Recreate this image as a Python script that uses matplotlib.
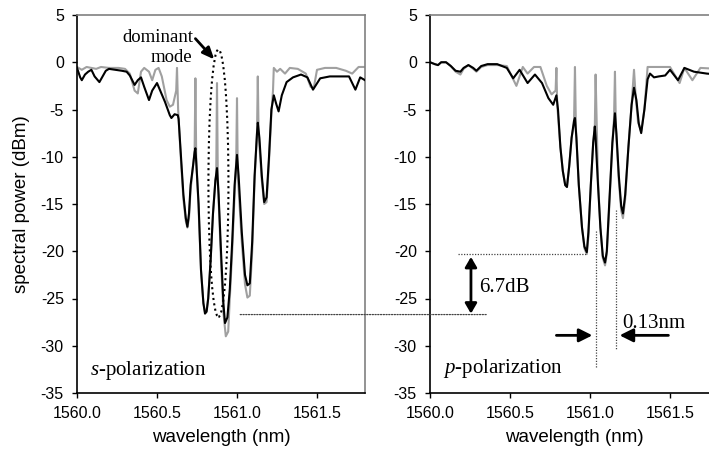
import matplotlib
matplotlib.use("Agg")
import matplotlib.pyplot as plt
from matplotlib.patches import Ellipse, ConnectionPatch, FancyArrowPatch

plt.rcParams["mathtext.fontset"] = "custom"
plt.rcParams["mathtext.it"] = "Liberation Serif:italic"
plt.rcParams["mathtext.rm"] = "Liberation Serif"

# ---------------- data ----------------
s_black_x = [1560.00, 1560.02, 1560.03, 1560.05, 1560.07, 1560.09, 1560.11, 1560.14, 1560.16, 1560.18,
             1560.20, 1560.24, 1560.28, 1560.31, 1560.33, 1560.36, 1560.38, 1560.40, 1560.42, 1560.45,
             1560.47, 1560.50, 1560.52, 1560.55, 1560.58, 1560.59, 1560.61, 1560.63, 1560.635, 1560.65,
             1560.665, 1560.68, 1560.69, 1560.70, 1560.71, 1560.725, 1560.735, 1560.74, 1560.745, 1560.76,
             1560.775, 1560.79, 1560.80, 1560.81, 1560.82, 1560.835, 1560.85, 1560.865, 1560.875, 1560.885,
             1560.90, 1560.915, 1560.925, 1560.94, 1560.955, 1560.97, 1560.985, 1561.00, 1561.01, 1561.03,
             1561.05, 1561.065, 1561.08, 1561.095, 1561.11, 1561.125, 1561.13, 1561.14, 1561.155, 1561.17,
             1561.185, 1561.20, 1561.215, 1561.23, 1561.245, 1561.26, 1561.28, 1561.31, 1561.35, 1561.40,
             1561.44, 1561.475, 1561.52, 1561.58, 1561.64, 1561.70, 1561.74, 1561.77, 1561.80]
s_black_y = [-0.6, -1.6, -1.9, -1.3, -1.0, -0.8, -1.5, -2.1, -1.5, -0.9,
             -0.7, -0.8, -0.9, -1.0, -1.4, -2.4, -1.9, -1.6, -2.6, -4.0,
             -3.0, -2.2, -3.0, -4.2, -5.6, -5.9, -5.5, -5.6, -6.0, -10.0,
             -14.0, -16.5, -17.4, -16.0, -13.0, -11.0, -9.5, -9.1, -10.5, -15.0,
             -22.0, -25.5, -26.6, -26.4, -25.0, -21.0, -16.0, -12.5, -11.2, -14.0,
             -20.0, -25.5, -27.6, -27.0, -24.0, -19.0, -13.0, -9.8, -12.0, -18.0,
             -22.5, -23.6, -23.4, -19.0, -12.0, -7.5, -6.4, -8.0, -12.0, -14.8,
             -14.3, -10.0, -5.0, -3.5, -4.4, -5.2, -3.5, -2.1, -1.6, -1.3,
             -1.6, -2.9, -1.7, -1.5, -1.5, -1.5, -2.9, -1.6, -1.9]

s_gray_x = [1560.00, 1560.03, 1560.06, 1560.09, 1560.12, 1560.15, 1560.20, 1560.26, 1560.30, 1560.33,
            1560.36, 1560.38, 1560.40, 1560.42, 1560.45, 1560.47, 1560.49, 1560.51, 1560.53, 1560.56,
            1560.58, 1560.60, 1560.62, 1560.625, 1560.632, 1560.65, 1560.665, 1560.68, 1560.69, 1560.70,
            1560.71, 1560.725, 1560.735, 1560.74, 1560.745, 1560.76, 1560.775, 1560.79, 1560.80, 1560.81,
            1560.82, 1560.835, 1560.85, 1560.865, 1560.87, 1560.875, 1560.88, 1560.885, 1560.90, 1560.915,
            1560.93, 1560.945, 1560.955, 1560.97, 1560.985, 1560.995, 1561.00, 1561.005, 1561.03, 1561.05,
            1561.065, 1561.08, 1561.095, 1561.11, 1561.125, 1561.13, 1561.135, 1561.155, 1561.17, 1561.185,
            1561.20, 1561.215, 1561.225, 1561.23, 1561.25, 1561.27, 1561.30, 1561.33, 1561.38, 1561.43,
            1561.46, 1561.48, 1561.50, 1561.55, 1561.62, 1561.68, 1561.72, 1561.76, 1561.80]
s_gray_y = [-0.5, -0.8, -0.5, -0.6, -0.7, -0.5, -0.6, -0.6, -0.7, -1.2,
            -3.0, -3.3, -1.0, -0.6, -1.0, -1.9, -0.8, -0.6, -1.5, -4.0,
            -4.7, -4.5, -3.0, -0.6, -5.0, -10.5, -14.5, -16.8, -17.5, -16.5,
            -13.5, -11.0, -9.5, -1.7, -10.0, -15.5, -22.0, -25.5, -26.4, -26.3,
            -25.0, -21.0, -16.0, -12.5, -12.0, -2.2, -12.0, -14.5, -21.0, -26.5,
            -29.0, -28.5, -25.0, -20.0, -14.0, -10.5, -3.8, -12.0, -19.0, -23.5,
            -24.9, -24.7, -20.0, -12.5, -7.5, -1.5, -7.5, -12.5, -15.0, -14.8,
            -10.5, -5.5, -3.0, -0.6, -1.0, -0.7, -1.2, -0.6, -0.7, -1.2,
            -2.6, -2.7, -0.8, -0.6, -0.6, -0.9, -1.2, -0.5, -0.5]

p_black_x = [1560.00, 1560.03, 1560.05, 1560.07, 1560.10, 1560.13, 1560.16, 1560.19, 1560.21, 1560.24,
             1560.27, 1560.29, 1560.32, 1560.36, 1560.42, 1560.48, 1560.52, 1560.56, 1560.61, 1560.656,
             1560.70, 1560.74, 1560.77, 1560.79, 1560.80, 1560.815, 1560.83, 1560.845, 1560.856, 1560.87,
             1560.885, 1560.90, 1560.906, 1560.915, 1560.93, 1560.95, 1560.965, 1560.98, 1560.99, 1561.005,
             1561.02, 1561.03, 1561.035, 1561.05, 1561.065, 1561.08, 1561.094, 1561.105, 1561.12, 1561.14,
             1561.156, 1561.165, 1561.18, 1561.195, 1561.206, 1561.22, 1561.24, 1561.26, 1561.275, 1561.29,
             1561.305, 1561.32, 1561.34, 1561.36, 1561.375, 1561.40, 1561.43, 1561.47, 1561.50, 1561.55,
             1561.59, 1561.65, 1561.73, 1561.80]
p_black_y = [0.0, -0.2, -0.3, 0.0, 0.0, -0.4, -0.9, -1.0, -0.6, -0.3,
             -0.6, -0.9, -0.4, -0.2, -0.2, -0.6, -1.7, -0.8, -2.2, -1.3,
             -2.2, -3.8, -4.5, -3.5, -5.0, -9.0, -11.5, -13.0, -13.2, -11.0,
             -8.0, -6.2, -5.9, -8.0, -13.0, -17.5, -19.5, -20.1, -18.0, -13.0,
             -8.5, -6.8, -8.0, -13.0, -17.5, -20.5, -21.2, -20.0, -15.0, -8.5,
             -5.4, -7.5, -12.0, -15.2, -16.0, -14.0, -9.0, -4.5, -2.7, -4.0,
             -6.5, -7.5, -5.0, -1.8, -1.2, -1.6, -1.5, -1.4, -0.8, -1.9,
             -0.6, -1.0, -1.2, -1.3]

p_gray_x = [1560.00, 1560.03, 1560.05, 1560.07, 1560.10, 1560.13, 1560.16, 1560.19, 1560.21, 1560.24,
            1560.27, 1560.29, 1560.32, 1560.36, 1560.42, 1560.48, 1560.54, 1560.58, 1560.61, 1560.65,
            1560.69, 1560.73, 1560.76, 1560.785, 1560.79, 1560.795, 1560.815, 1560.83, 1560.845, 1560.856,
            1560.87, 1560.885, 1560.90, 1560.906, 1560.912, 1560.93, 1560.95, 1560.965, 1560.98, 1560.99,
            1561.005, 1561.02, 1561.03, 1561.035, 1561.05, 1561.065, 1561.08, 1561.094, 1561.105, 1561.12,
            1561.14, 1561.15, 1561.156, 1561.162, 1561.18, 1561.195, 1561.206, 1561.22, 1561.24, 1561.26,
            1561.275, 1561.285, 1561.30, 1561.32, 1561.34, 1561.36, 1561.40, 1561.50, 1561.56, 1561.59,
            1561.64, 1561.69, 1561.80]
p_gray_y = [0.0, -0.2, -0.3, 0.0, 0.0, -0.4, -1.0, -1.3, -0.7, -0.3,
            -0.7, -1.0, -0.5, -0.3, -0.3, -0.4, -2.5, -0.5, -1.2, -0.5,
            -0.5, -2.5, -3.4, -3.0, -0.6, -4.5, -9.0, -11.5, -13.0, -13.2,
            -11.0, -8.0, -6.5, -0.5, -7.0, -13.0, -17.5, -19.7, -20.3, -18.5,
            -13.0, -8.5, -7.0, -1.3, -12.5, -17.5, -20.7, -21.5, -20.3, -15.5,
            -8.5, -6.0, -1.0, -7.0, -12.5, -15.7, -16.5, -14.5, -9.0, -4.5,
            -0.8, -3.5, -6.3, -7.3, -5.0, -0.5, -0.5, -0.5, -2.2, -0.6,
            -1.9, -0.6, -0.7]

x_ticks = [1560.0, 1560.5, 1561.0, 1561.5]
x_tick_labels = ["1560.0", "1560.5", "1561.0", "1561.5"]
y_ticks = [5, 0, -5, -10, -15, -20, -25, -30, -35]

# ---------------- figure ----------------
W, H = 709, 450
fig = plt.figure(figsize=(W / 100, H / 100), dpi=100)
sans = "Liberation Sans"
serif = "Liberation Serif"
GRAY = "#a0a0a0"
DOT = "#444444"


def make_axes(left_px, top_px, bottom_px):
    ax = fig.add_axes([left_px / W, (H - bottom_px) / H, 288 / W, (bottom_px - top_px) / H])
    ax.set_xlim(1560.0, 1561.8)
    ax.set_ylim(-35, 5)
    ax.set_xticks(x_ticks)
    ax.set_xticklabels(x_tick_labels)
    ax.set_yticks(y_ticks)
    ax.set_yticklabels([str(v) for v in y_ticks])
    ax.tick_params(direction="out", length=3.5, width=1.0, color="black")
    ax.tick_params(axis="y", pad=6)
    ax.tick_params(axis="x", pad=6)
    for lab in ax.get_xticklabels() + ax.get_yticklabels():
        lab.set_fontfamily(sans)
        lab.set_fontsize(11.5)
    for side in ("left", "bottom"):
        ax.spines[side].set_color("black")
        ax.spines[side].set_linewidth(1.2)
    for side in ("top", "right"):
        ax.spines[side].set_color("#808080")
        ax.spines[side].set_linewidth(1.2)
    return ax


ax1 = make_axes(77, 15, 393)
ax2 = make_axes(430, 15, 393)

ax1.plot(s_gray_x, s_gray_y, color=GRAY, lw=1.5, zorder=2)
ax1.plot(s_black_x, s_black_y, color="black", lw=1.5, zorder=3)
ax2.plot(p_gray_x, p_gray_y, color=GRAY, lw=1.5, zorder=2)
ax2.plot(p_black_x, p_black_y, color="black", lw=1.5, zorder=3)

# axis labels
fig.text(22 / W, (H - 204) / H, "spectral power (dBm)", rotation=90, ha="center", va="center",
         fontfamily=sans, fontsize=13.5)
fig.text((77 + 144) / W, (H - 437) / H, "wavelength (nm)", ha="center", va="center",
         fontfamily=sans, fontsize=13.5)
fig.text((430 + 144) / W, (H - 437) / H, "wavelength (nm)", ha="center", va="center",
         fontfamily=sans, fontsize=13.5)

# ---------------- left-panel annotations ----------------
ax1.text(1560.08, -32.6, r"$\mathit{s}$-polarization", fontsize=15, fontfamily=serif, va="center")

ax1.add_patch(Ellipse((1560.884, -12.8), 0.125, 28.3, fill=False, ls=(0, (1, 1.6)), lw=1.5,
                      color="black", zorder=4))
ax1.text(1560.725, 2.6, "dominant", fontsize=13.5, fontfamily=serif, ha="right", va="center")
ax1.text(1560.72, 0.5, "mode", fontsize=13.5, fontfamily=serif, ha="right", va="center")
ax1.annotate("", xy=(1560.858, 0.3), xytext=(1560.74, 2.5),
             arrowprops=dict(arrowstyle="-|>,head_length=0.7,head_width=0.3", color="black", lw=2.0,
                             shrinkA=0, shrinkB=0))

# dotted line joining the panels at the s-pol minimum level
con = ConnectionPatch(xyA=(1561.02, -26.7), coordsA=ax1.transData,
                      xyB=(1560.36, -26.7), coordsB=ax2.transData,
                      color=DOT, lw=0.9, ls=(0, (1, 1.2)))
fig.add_artist(con)

# ---------------- right-panel annotations ----------------
ax2.text(1560.08, -32.4, r"$\mathit{p}$-polarization", fontsize=15, fontfamily=serif, va="center")

ax2.plot([1560.175, 1560.98], [-20.3, -20.3], color=DOT, lw=0.9, ls=(0, (1, 1.2)))
ax2.add_patch(FancyArrowPatch((1560.256, -20.6), (1560.256, -26.6),
                              arrowstyle="<|-|>,head_length=6,head_width=3.5", color="black",
                              lw=2.0, shrinkA=0, shrinkB=0, mutation_scale=1))
ax2.text(1560.31, -23.8, "6.7dB", fontsize=15, fontfamily=serif, va="center")

ax2.plot([1561.04, 1561.04], [-17.9, -32.4], color=DOT, lw=0.9, ls=(0, (1, 1.2)))
ax2.plot([1561.16, 1561.16], [-15.6, -30.5], color=DOT, lw=0.9, ls=(0, (1, 1.2)))
ax2.add_patch(FancyArrowPatch((1560.79, -28.9), (1561.015, -28.9),
                              arrowstyle="-|>,head_length=8,head_width=4", color="black",
                              lw=2.0, shrinkA=0, shrinkB=0, mutation_scale=1))
ax2.add_patch(FancyArrowPatch((1561.49, -28.9), (1561.185, -28.9),
                              arrowstyle="-|>,head_length=8,head_width=4", color="black",
                              lw=2.0, shrinkA=0, shrinkB=0, mutation_scale=1))
ax2.text(1561.2, -27.6, "0.13nm", fontsize=15, fontfamily=serif, va="center")

fig.savefig("out.png", dpi=100)
